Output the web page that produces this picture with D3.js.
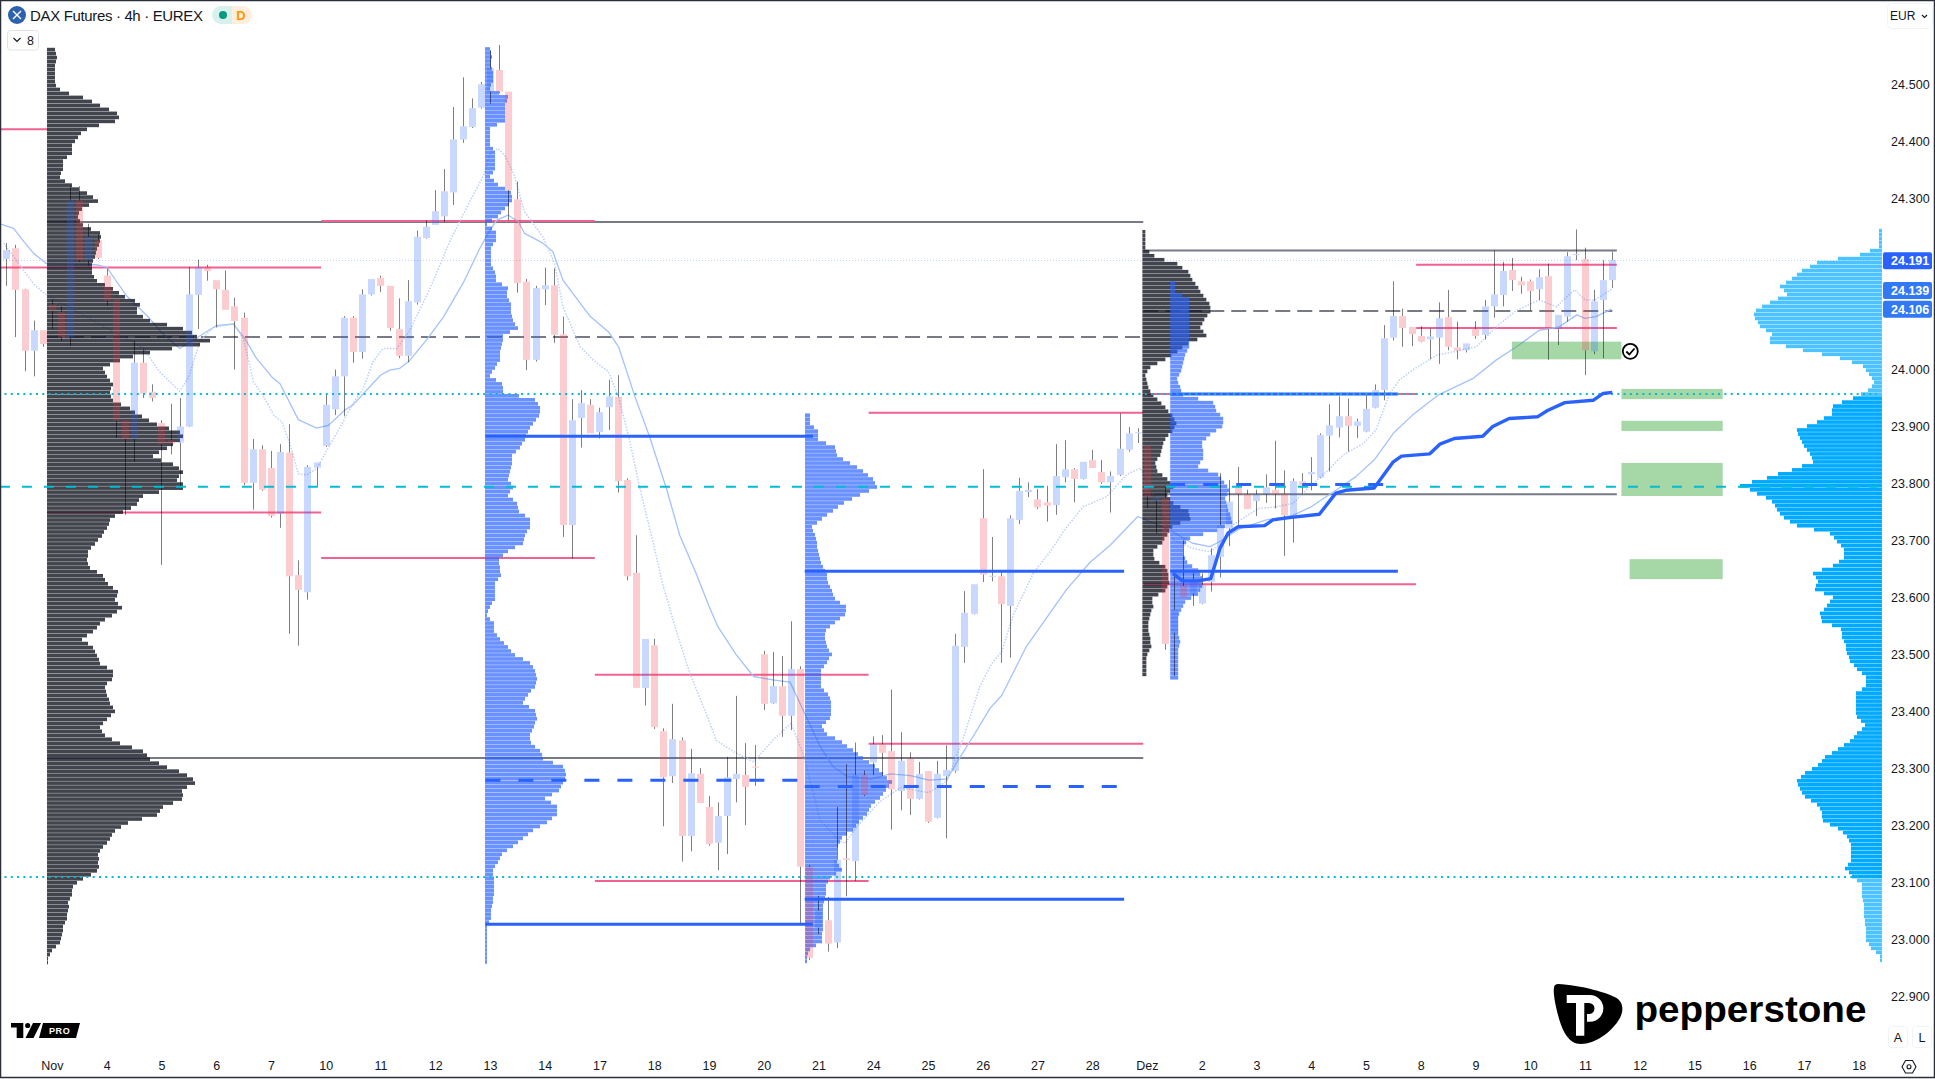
<!DOCTYPE html>
<html><head><meta charset="utf-8">
<style>html,body{margin:0;padding:0;background:#fff;overflow:hidden}svg{display:block}text{font-family:"Liberation Sans",Arial,sans-serif}</style>
<script src="https://cdn.jsdelivr.net/npm/d3@7"></script></head><body>
<svg id="c" width="1935" height="1079"></svg>
<script>
// ---- candles (price points, 4h bars) ----
const candleOpen=[24194,24213,24141,24033,24069,24114,24101,24056,24297,24192,24227,24165,24124,23911,23878,24012,23961,23906,23876,23872,23900,24131,24180,24157,24140,24111,24091,23801,23860,23827,23747,23854,23639,23609,23828,23866,23930,23988,24091,24031,24132,24161,24147,24071,24024,24118,24231,24254,24269,24311,24404,24426,24460,24488,24526,24488,24299,24154,24017,24141,24148,24062,23727,23915,23938,23890,23934,23952,23806,23643,23441,23516,23365,23286,23349,23181,23290,23232,23169,23216,23281,23288,23303,23500,23414,23444,23392,23474,23127,23020,23033,22994,23142,23137,23288,23310,23342,23330,23260,23317,23246,23295,23213,23286,23295,23513,23571,23739,23636,23637,23585,23736,23785,23772,23767,23762,23811,23825,23808,23841,23820,23802,23815,23859,23888,23866,23770,23774,23538,23620,23607,23589,23627,23671,23721,23792,23781,23769,23781,23789,23782,23743,23804,23816,23810,23884,23898,23918,23901,23891,23933,23964,24056,24094,24075,24059,24053,24056,24092,24039,24034,24071,24061,24111,24131,24175,24155,24155,24141,24164,24071,24093,24201,24194,24032,24122,24157];
const candleHigh=[24222,24219,24142,24086,24069,24123,24111,24322,24322,24256,24238,24177,24124,23911,24051,24035,23974,23911,23940,23950,24180,24193,24184,24157,24174,24126,24100,23878,23867,23857,23869,23904,23665,23832,23837,23956,24000,24094,24094,24141,24159,24165,24147,24125,24157,24244,24262,24315,24352,24461,24513,24476,24505,24561,24570,24488,24330,24159,24147,24179,24178,24093,23948,23964,23948,23933,23982,23990,23809,23709,23527,23527,23370,23413,23354,23334,23300,23251,23240,23320,23427,23344,23341,23506,23504,23497,23558,23479,23130,23076,23074,23232,23307,23345,23296,23356,23358,23438,23363,23328,23311,23295,23313,23340,23536,23611,23623,23825,23706,23644,23744,23810,23802,23790,23796,23869,23876,23827,23838,23859,23841,23821,23923,23899,23897,23866,23776,23794,23640,23700,23642,23642,23686,23818,23806,23829,23789,23789,23816,23875,23823,23809,23818,23846,23888,23939,23953,23949,23914,23955,23974,24078,24155,24107,24075,24076,24072,24118,24140,24084,24046,24085,24122,24209,24189,24196,24163,24158,24176,24186,24096,24206,24246,24214,24140,24192,24207];
const candleLow=[24147,24057,23997,23988,24040,24071,24050,24041,24189,24183,24194,24112,23880,23745,23838,23950,23944,23657,23851,23796,23899,24071,24156,24074,24105,24000,23797,23754,23787,23740,23722,23536,23515,23596,23795,23864,23920,23918,24012,24019,24130,24136,24068,24020,24013,24114,24230,24254,24259,24289,24398,24424,24458,24467,24485,24262,24135,23999,24014,24113,24047,23706,23668,23863,23888,23879,23894,23784,23630,23441,23410,23369,23198,23274,23136,23154,23239,23164,23121,23149,23240,23200,23269,23402,23413,23355,23367,23027,22963,23009,22978,22984,23075,23102,23251,23288,23287,23192,23226,23218,23245,23204,23212,23177,23292,23485,23570,23627,23628,23485,23494,23729,23776,23755,23733,23745,23802,23767,23807,23827,23799,23749,23813,23856,23871,23757,23712,23508,23462,23600,23585,23588,23610,23635,23690,23724,23755,23743,23766,23756,23673,23696,23780,23788,23809,23821,23881,23856,23880,23890,23932,23946,24051,24040,24041,24048,24018,24010,24034,24018,24030,24054,24053,24091,24111,24138,24133,24104,24122,24017,24043,24084,24192,23990,24027,24020,24143];
const candleClose=[24210,24140,24033,24069,24045,24103,24056,24297,24192,24233,24196,24121,23910,23878,24012,23958,23950,23869,23870,23900,24132,24180,24173,24141,24105,24085,23801,23860,23789,23743,23855,23637,23613,23829,23837,23938,23988,24091,24031,24132,24159,24147,24073,24024,24120,24233,24251,24278,24313,24404,24427,24459,24501,24529,24488,24315,24152,24017,24143,24148,24061,23727,23911,23941,23888,23925,23953,23804,23637,23441,23527,23372,23284,23351,23181,23291,23239,23167,23216,23284,23290,23267,23301,23413,23444,23392,23474,23127,22967,23050,22992,23139,23139,23288,23253,23342,23327,23263,23313,23246,23290,23206,23290,23297,23515,23573,23623,23640,23638,23588,23739,23787,23789,23758,23761,23813,23825,23808,23838,23827,23802,23813,23861,23888,23890,23777,23776,23518,23578,23600,23630,23622,23674,23727,23768,23781,23755,23781,23793,23781,23744,23804,23797,23820,23885,23902,23918,23901,23909,23931,23964,24055,24094,24073,24062,24049,24058,24090,24040,24033,24046,24059,24111,24132,24173,24157,24148,24138,24162,24071,24096,24199,24203,24034,24120,24157,24192];
// ---- axis ticks ----
const priceTicks=[22900,23000,23100,23200,23300,23400,23500,23600,23700,23800,23900,24000,24100,24200,24300,24400,24500];
const dayLabels=["Nov","4","5","6","7","10","11","12","13","14","17","18","19","20","21","24","25","26","27","28","Dez","2","3","4","5","8","9","10","11","12","15","16","17","18"];
const dayIndex=[5,11,17,23,29,35,41,47,53,59,65,71,77,83,89,95,101,107,113,119,125,131,137,143,149,155,161,167,173,179,185,191,197,203];
// ---- moving averages [bar index, price] ----
const maSolid=[[-0.7,24256],[.8,24248],[1.9,24225],[3,24204],[4.4,24186],[9.9,24184],[11,24180],[11.9,24159],[13.2,24129],[15.4,24095],[17.2,24062],[19,24037],[21.2,24059],[23,24077],[24.9,24080],[26.2,24053],[27.4,24020],[29.1,23987],[30,23975],[32,23912],[34,23897],[35.3,23902],[37.1,23929],[38,23938],[41,23990],[42,23999],[43.1,24002],[44.1,24014],[46.1,24053],[47.9,24092],[50.1,24153],[51.9,24213],[52.8,24239],[53.7,24262],[55,24271],[56.1,24260],[56.8,24239],[58.8,24222],[59.9,24207],[61,24157],[64,24093],[66,24066],[67.1,24040],[68.9,23952],[70.5,23882],[72.4,23788],[73.8,23709],[75.6,23642],[77.1,23581],[78,23548],[80,23499],[81.9,23461],[84,23455],[85.9,23451],[87.5,23396],[89.2,23338],[90.6,23303],[92.1,23286],[94.7,23281],[96.9,23290],[99.1,23287],[101.1,23279],[103.1,23281],[104.2,23311],[106,23357],[107.8,23405],[109.1,23428],[111.8,23514],[116.2,23614],[118.8,23662],[121,23692],[124,23742],[127.5,23718],[130,23695],[131.9,23689],[133,23698],[135.2,23721],[138.1,23736],[141,23744],[143,23759],[145.7,23788],[147.9,23812],[149.9,23841],[152,23888],[154.1,23920],[156.9,23955],[160.7,23984],[163.3,24017],[165.5,24040],[168,24069],[170.2,24075],[172.1,24096],[173,24090],[174.2,24093],[175.9,24106]];
const maDotted=[[-0.3,24222],[1.5,24183],[3,24150],[4.2,24133],[15,24038],[16.8,23996],[19,23962],[20,23987],[21.2,24050],[22.7,24074],[24.9,24080],[26,24053],[27.1,23978],[28.2,23953],[29.3,23920],[30.2,23908],[31.1,23869],[32,23817],[32.9,23815],[34,23826],[35.3,23863],[36.6,23899],[38,23941],[39.1,23966],[40.2,24014],[41.3,24037],[42.8,24037],[44.2,24068],[46.4,24141],[48.6,24225],[50.5,24286],[52.4,24344],[53,24380],[53.9,24388],[54.6,24377],[55.6,24344],[56.8,24277],[58.8,24233],[60.1,24186],[61,24110],[62.9,24040],[64.3,24017],[66,23996],[67.1,23952],[68.3,23876],[69.4,23794],[70.9,23695],[72,23619],[73.5,23537],[74.9,23467],[76.7,23396],[77.8,23349],[79.7,23329],[81.9,23311],[84,23349],[86,23379],[87,23338],[87.5,23314],[89.2,23209],[91.2,23174],[91.9,23168],[93.2,23197],[95.7,23241],[98,23266],[101.1,23257],[103.1,23278],[104.9,23354],[106.7,23444],[108,23484],[109.1,23505],[110.4,23571],[112.6,23644],[114.4,23680],[115.9,23717],[118,23759],[120.6,23777],[122.8,23816],[124.3,23827],[127.9,23701],[130,23686],[131.9,23680],[133,23692],[134.4,23727],[137.2,23756],[139.2,23759],[141,23765],[142.8,23794],[144.7,23821],[146.5,23850],[148.7,23870],[150.1,23894],[151.6,23958],[152.7,23982],[154.1,23999],[156.7,24025],[159.1,24033],[161.1,24040],[163.3,24075],[165.5,24104],[168,24122],[169.9,24110],[170.6,24122],[171.9,24140],[173,24122],[174.1,24122],[175.9,24141]];
const anchoredVwap=[[127.85,23642],[128.9,23629],[130.6,23629],[132,23633],[133,23686],[133.9,23713],[135,23724],[137.9,23726],[138.8,23736],[140.6,23740],[143.9,23746],[145.7,23783],[146.8,23788],[149.9,23792],[152,23838],[152.9,23848],[156,23852],[157.1,23869],[158.7,23879],[161.8,23883],[162.9,23900],[164.7,23914],[167.8,23917],[168.9,23928],[170.8,23942],[173.9,23946],[175,23958],[176,23960]];
// ---- horizontal levels [from bar, to bar, price] ----
const greyLevels=[[4.46,124.6,24259],[4.46,124.6,23318],[124.6,176.5,24209],[124.6,176.5,23781]];
const greyDashed=[[4.46,124.6,24057],[124.6,176,24103]];
const pinkLevels=[[-0.7,4.46,24422],[-0.7,34.5,24179],[4.46,34.5,23749],[34.5,64.5,24261],[34.5,64.5,23669],[64.5,94.5,23464],[64.5,94.5,23102],[94.5,124.6,23924],[94.5,124.6,23343],[124.6,154.5,23957],[124.6,154.5,23623],[154.5,176.5,24184],[154.5,176.5,24073]];
const blueLevels=[[52.5,88.4,23883],[52.5,88.4,23026],[87.5,122.5,23646],[87.5,122.5,23070],[127.55,152.5,23957],[127.55,152.5,23646]];
const blueDashed=[[52.5,88.4,23279],[87.5,122.5,23268],[127.55,152.5,23798]];
const tealDotted=[[-0.2,205,23957],[-0.2,205,23109]];
const tealDashed=[[-0.7,205,23794]];
const greenZones=[[165,177,24049,24018],[177,188.1,23966,23948],[177,188.1,23910,23892],[177,188.1,23836,23778],[177.9,188.1,23667,23632]];
const lastPrice=24191.7;
// ---- volume profiles: volume per 7-point row, from the top price down ----
const profBlack1=[8,9,10,9,8,8,8,8,8,9,13,22,36,45,53,62,70,72,68,52,40,34,31,28,25,25,25,20,16,16,16,14,13,18,25,32,40,46,51,42,35,32,31,33,36,44,53,54,53,52,50,49,48,46,45,45,45,47,50,58,66,72,78,88,93,90,90,96,103,120,136,145,150,163,153,125,103,86,73,63,56,58,60,63,66,64,63,64,66,74,83,88,95,102,110,122,133,136,133,126,120,112,106,114,126,132,136,132,130,136,136,112,96,92,90,84,76,68,63,62,60,57,55,51,48,44,41,41,40,41,43,50,56,58,61,66,71,70,68,71,75,70,65,58,53,50,46,40,35,41,46,48,50,52,53,60,66,66,65,60,58,59,60,62,63,66,68,64,60,56,53,55,58,65,73,85,96,100,103,112,120,132,140,146,148,140,135,136,135,126,116,113,110,95,81,74,68,65,63,60,56,53,51,52,51,52,50,44,36,30,26,25,25,23,21,22,21,20,20,18,16,16,15,14,13,9,5,3,1,1];
const profBlue2=[5,6,7,6,6,7,8,8,8,6,5,14,23,22,20,20,20,20,20,12,5,5,5,5,5,8,10,10,10,10,10,8,5,9,13,20,26,27,27,24,20,16,13,7,2,7,11,11,11,8,6,6,6,6,6,8,10,11,11,17,23,22,22,24,26,26,26,27,28,30,33,25,18,18,17,16,15,15,15,12,10,7,5,11,17,18,18,34,50,53,55,55,54,51,48,45,43,41,40,37,35,31,27,27,27,26,25,24,23,26,28,25,23,28,32,33,34,40,45,45,45,42,40,39,38,30,23,18,14,14,15,15,16,13,10,10,10,10,10,7,5,3,2,5,9,9,9,12,15,19,23,26,30,38,45,48,50,51,52,51,50,46,43,40,38,44,50,51,52,50,49,47,45,45,46,50,55,57,58,68,78,80,81,80,78,76,74,67,60,66,72,72,72,67,62,55,48,43,38,33,28,22,17,15,13,10,8,8,9,9,9,9,9,8,8,7,6,6,6,4,2,2,2,2,2,2,2,2,2,2];
const profBlue3=[5,5,5,9,13,13,13,21,30,31,32,38,45,52,58,63,68,70,72,64,55,47,39,33,28,22,17,12,7,8,10,11,12,12,13,14,15,16,18,20,22,22,23,25,27,28,30,35,41,41,40,35,30,25,21,20,20,21,22,24,27,24,22,19,16,16,16,16,16,19,23,25,26,26,26,26,25,21,17,19,22,30,37,42,48,53,58,64,70,74,78,82,87,84,81,78,75,70,66,64,62,58,54,51,48,42,37,35,33,32,32,32,32,34,37,31,25,23,21,21,21,20,19,18,18,18,18,18,18,18,17,17,17,11,5,3,2,2];
const profBlack4=[3,3,3,3,3,7,12,22,35,40,46,48,50,53,56,58,61,64,67,68,68,65,62,60,58,61,64,55,46,40,35,29,23,15,8,5,3,4,5,6,8,11,15,19,23,26,30,32,34,32,30,26,23,21,20,19,18,15,13,14,15,20,25,28,31,28,25,28,31,38,46,47,48,38,30,27,25,22,20,15,11,11,12,17,23,25,26,26,27,25,23,16,10,10,11,9,8,7,6,6,6,7,8,8,9,7,5,4,4,4,4,4];
const profBlue5=[5,5,5,12,19,19,19,19,19,19,19,19,19,19,19,19,19,17,15,14,13,12,11,9,7,8,10,11,13,28,43,45,46,50,53,53,52,46,40,36,32,32,33,33,33,30,28,38,48,51,54,57,59,57,55,56,57,58,60,61,62,55,47,33,20,16,13,13,13,15,17,22,28,30,32,32,32,30,28,21,15,13,11,9,8,8,8,8,8,9,10,9,8,8,8,8,8,8,8,8];
const profRight=[3,3,3,3,3,12,22,44,65,72,80,85,90,96,102,98,95,104,112,120,126,128,127,124,122,116,110,112,112,96,79,60,42,30,19,16,13,10,8,10,14,21,29,40,49,50,50,58,65,75,85,84,82,80,78,75,72,70,69,80,90,104,115,130,142,132,125,116,110,107,105,102,98,92,85,68,52,48,45,41,38,38,38,43,49,60,69,66,64,66,67,58,49,52,55,58,62,61,60,50,41,40,40,38,36,36,35,33,32,28,25,20,16,16,16,20,26,26,26,26,26,26,25,21,17,20,25,28,32,38,44,50,57,60,64,70,77,81,85,84,82,80,77,71,65,62,60,60,59,52,44,39,35,33,31,31,31,31,31,34,37,33,30,25,20,20,20,20,19,18,18,18,18,17,17,16,16,16,16,13,11,6,2,2];
const sessionStart=[4.46,52.46,87.53,124.5,127.55];
const sessionTop=[24565,24566,23923,24245,24155];
const rightTop=24247, rightEdge=205.55;
const rightValueLow=23109, rightValueHigh=23957;

const svg=d3.select("#c");
const x=d3.scaleLinear().domain([0,176]).range([6.3,1612.3]);
const y=d3.scaleLinear().domain([22900,24500]).range([996,84.8]);
const vol=d3.scaleLinear().domain([0,100]).range([0,100]);
const rowPts=7,rowFill=6.4;

function hLines(data,color,w,dash){
  svg.append("g").selectAll("line").data(data).join("line")
    .attr("x1",d=>x(d[0])).attr("x2",d=>x(d[1])).attr("y1",d=>y(d[2])).attr("y2",d=>y(d[2]))
    .attr("stroke",color).attr("stroke-width",w).attr("stroke-dasharray",dash||null);
}
function path(data,color,w,dash){
  svg.append("path").datum(data).attr("fill","none").attr("stroke",color).attr("stroke-width",w)
    .attr("stroke-linejoin","round").attr("stroke-dasharray",dash||null)
    .attr("d",d3.line().x(d=>x(d[0])).y(d=>y(d[1])).curve(d3.curveLinear));
}
function rowsOf(vals,top){ return vals.map((v,k)=>({p:top-k*rowPts,v})); }
function profile(vals,start,top,color){
  svg.append("g").selectAll("rect").data(rowsOf(vals,top)).join("rect")
    .attr("x",x(start)).attr("y",d=>y(d.p)).attr("width",d=>vol(d.v))
    .attr("height",d=>y(d.p-rowFill)-y(d.p)).attr("fill",color);
}
// lower layers
hLines(greyLevels,"#787b86",2);
hLines(greyDashed,"#787b86",2,"15 7");
hLines(pinkLevels,"#f06292",2);
svg.append("line").attr("x1",0).attr("x2",1883).attr("y1",y(lastPrice)).attr("y2",y(lastPrice))
  .attr("stroke","#bcccff").attr("stroke-width",1).attr("stroke-dasharray","1 2");
path(maSolid,"#a3c2fb",1.3);
path(maDotted,"#bcd0fb",1.5,"1.5 1.5");
// zones
svg.append("g").selectAll("rect").data(greenZones).join("rect")
  .attr("x",d=>x(d[0])).attr("width",d=>x(d[1])-x(d[0])).attr("y",d=>y(d[2])).attr("height",d=>y(d[3])-y(d[2]))
  .attr("fill","#4caf50").attr("fill-opacity",.5);
// profiles
profile(profBlack1,sessionStart[0],sessionTop[0],"rgba(19,23,34,.8)");
profile(profBlue2,sessionStart[1],sessionTop[1],"rgba(41,98,255,.7)");
profile(profBlue3,sessionStart[2],sessionTop[2],"rgba(41,98,255,.7)");
profile(profBlack4,sessionStart[3],sessionTop[3],"rgba(19,23,34,.8)");
profile(profBlue5,sessionStart[4],sessionTop[4],"rgba(41,98,255,.7)");
svg.append("g").selectAll("rect").data(rowsOf(profRight,rightTop)).join("rect")
  .attr("x",d=>x(rightEdge)-vol(d.v)).attr("width",d=>vol(d.v)).attr("y",d=>y(d.p))
  .attr("height",d=>y(d.p-rowFill)-y(d.p))
  .attr("fill",d=>(d.p>rightValueHigh||d.p<rightValueLow)?"#4cc3ff":"#00aaff");
// candles: wick above and below the body only
const idx=d3.range(candleOpen.length);
const bw=7;
svg.append("g").selectAll("path").data(idx).join("path")
  .attr("d",i=>{const t=Math.max(candleOpen[i],candleClose[i]),b=Math.min(candleOpen[i],candleClose[i]),X=Math.round(x(i))+.5;
    return `M${X},${y(candleHigh[i])}V${y(t)}M${X},${y(b)}V${y(candleLow[i])}`;})
  .attr("fill","none").attr("stroke","#000").attr("stroke-opacity",.5).attr("stroke-width",1);
svg.append("g").selectAll("rect").data(idx).join("rect")
  .attr("x",i=>Math.round(x(i))-3).attr("width",bw)
  .attr("y",i=>y(Math.max(candleOpen[i],candleClose[i])))
  .attr("height",i=>Math.max(1,Math.abs(y(candleOpen[i])-y(candleClose[i]))))
  .attr("fill",i=>candleClose[i]>=candleOpen[i]?"#2962ff":"#f23645").attr("fill-opacity",.25);
// upper lines
hLines(blueLevels,"#2962ff",3);
hLines(blueDashed,"#2962ff",3,"15 18");
hLines(tealDotted,"#00bcd4",2,"2 4.3");
hLines(tealDashed,"#00bcd4",2,"10 12");
path(anchoredVwap,"#2962ff",3.4);
// axes
const tc="#131722";
const yAxis=d3.axisRight(y).tickValues(priceTicks).tickSize(0).tickPadding(0)
  .tickFormat(d=>d3.format(",")(d).replace(",","."));
const gy=svg.append("g").attr("transform","translate(1891,0)").call(yAxis);
gy.select(".domain").remove();
gy.selectAll("text").attr("font-size",12.5).attr("fill",tc).attr("font-family",'"Liberation Sans",Arial,sans-serif').attr("letter-spacing",.1);
gy.selectAll(".tick").filter(d=>d===24100||d===24200).remove();
const xAxis=d3.axisBottom(x).tickValues(dayIndex).tickSize(0).tickPadding(0).tickFormat((d,i)=>dayLabels[i]);
const gx=svg.append("g").attr("transform","translate(0,1061.5)").call(xAxis);
gx.select(".domain").remove();
gx.selectAll("text").attr("font-size",12.5).attr("fill",tc).attr("font-family",'"Liberation Sans",Arial,sans-serif');
// price tags
const tags=[[24191,"#2962ff","24.191"],[24139,"#3179f5","24.139"],[24106,"#3179f5","24.106"]];
tags.forEach(t=>{
  svg.append("rect").attr("x",1883).attr("y",y(t[0])-8.5).attr("width",49).attr("height",17).attr("rx",2).attr("fill",t[1]);
  svg.append("text").attr("x",1891).attr("y",y(t[0])+4.5).attr("font-size",12.5).attr("font-weight",700).attr("fill","#fff").text(t[2]);
});
// header
svg.append("circle").attr("cx",17).attr("cy",15).attr("r",9).attr("fill","#2e62ad");
svg.append("path").attr("d","M13,11 L21,19 M21,11 L13,19").attr("stroke","#fff").attr("stroke-width",1.4);
svg.append("text").attr("x",30).attr("y",20.5).attr("font-size",15).attr("fill",tc).attr("font-family","'Noto Sans',sans-serif").attr("textLength",173).text("DAX Futures · 4h · EUREX");
svg.append("path").attr("d","M232,6 H221 A9,9 0 0 0 221,24 H232 Z").attr("fill","#d9f1ec");
svg.append("path").attr("d","M232,6 H243 A9,9 0 0 1 243,24 H232 Z").attr("fill","#ffeedd");
svg.append("circle").attr("cx",223).attr("cy",15).attr("r",4).attr("fill","#089981");
svg.append("text").attr("x",241).attr("y",20).attr("text-anchor","middle").attr("font-size",13).attr("font-weight",700).attr("fill","#ff9800").text("D");
svg.append("rect").attr("x",7.5).attr("y",30.5).attr("width",31).attr("height",19.5).attr("rx",3).attr("fill","#fff").attr("stroke","#e0e3eb");
svg.append("path").attr("d","M13.5,38 L17,41.5 L20.5,38").attr("fill","none").attr("stroke","#131722").attr("stroke-width",1.2);
svg.append("text").attr("x",27).attr("y",45).attr("font-size",12.5).attr("fill",tc).text("8");
// EUR / A / L / settings
svg.append("rect").attr("x",1887.5).attr("y",3.5).attr("width",45).attr("height",25).attr("rx",4).attr("fill","#fff").attr("stroke","#f0f3fa");
svg.append("text").attr("x",1890).attr("y",20).attr("font-size",12).attr("fill",tc).text("EUR");
svg.append("path").attr("d","M1922,15 L1924.5,17.5 L1927,15").attr("fill","none").attr("stroke",tc).attr("stroke-width",1.1);
[[1888,"A"],[1912,"L"]].forEach(b=>{
  svg.append("rect").attr("x",b[0]+.5).attr("y",1026.5).attr("width",19).attr("height",21).attr("rx",3).attr("fill","#fff").attr("stroke","#f0f3fa");
  svg.append("text").attr("x",b[0]+10).attr("y",1042).attr("text-anchor","middle").attr("font-size",12.5).attr("fill",tc).text(b[1]);
});
svg.append("path").attr("d","M1902,1066.7 L1905.5,1060.5 H1912.5 L1916,1066.7 L1912.5,1073 H1905.5 Z").attr("fill","none").attr("stroke",tc).attr("stroke-width",1.1);
svg.append("circle").attr("cx",1909).attr("cy",1066.7).attr("r",2).attr("fill","none").attr("stroke",tc).attr("stroke-width",1.1);
// check mark
svg.append("circle").attr("cx",1630.3).attr("cy",351.3).attr("r",7.5).attr("fill","#fff").attr("stroke","#000").attr("stroke-width",1.8);
svg.append("path").attr("d","M1626.3,351.5 L1629.3,354.5 L1634.5,348.5").attr("fill","none").attr("stroke","#000").attr("stroke-width",1.8);
// TV logo
svg.append("path").attr("d","M11,1023 H23.3 V1038 H16.7 V1027.5 H11 Z M33,1023 H41 L33.5,1038 H25.5 Z").attr("fill","#000");
svg.append("circle").attr("cx",27.7).attr("cy",1025.5).attr("r",2.6).attr("fill","#000");
svg.append("path").attr("d","M43,1023 H80 L76,1038 H39 Z").attr("fill","#000");
svg.append("text").attr("x",49).attr("y",1034).attr("font-size",9).attr("font-weight",700).attr("fill","#fff").attr("letter-spacing",.6).text("PRO");
// Pepperstone logo
svg.append("path").attr("d","M1558,984 C1580,985 1610,993 1618,999 C1624,1004 1623,1012 1620,1018 C1612,1032 1595,1044 1581,1044 C1568,1044 1562,1030 1558,1015 C1555,1004 1553,992 1554,988 C1554,985 1556,984 1558,984 Z").attr("fill","#000");
svg.append("path").attr("d","M1566.7,995 H1590 A13.3,13.3 0 0 1 1590,1021.7 H1587 V1014 H1589 A5.5,5.5 0 0 0 1589,1003 H1584.3 V1035.7 H1576 V1003 H1566.7 Z").attr("fill","#fff");
svg.append("text").attr("x",1634.5).attr("y",1022).attr("font-size",37).attr("font-weight",600).attr("fill","#000").attr("font-family","Inter,sans-serif").attr("textLength",232).attr("lengthAdjust","spacingAndGlyphs").text("pepperstone");
// frame
svg.append("rect").attr("x",.5).attr("y",.5).attr("width",1934).attr("height",1077).attr("fill","none").attr("stroke","#2a2e39").attr("stroke-width",1.5);
</script></body></html>
